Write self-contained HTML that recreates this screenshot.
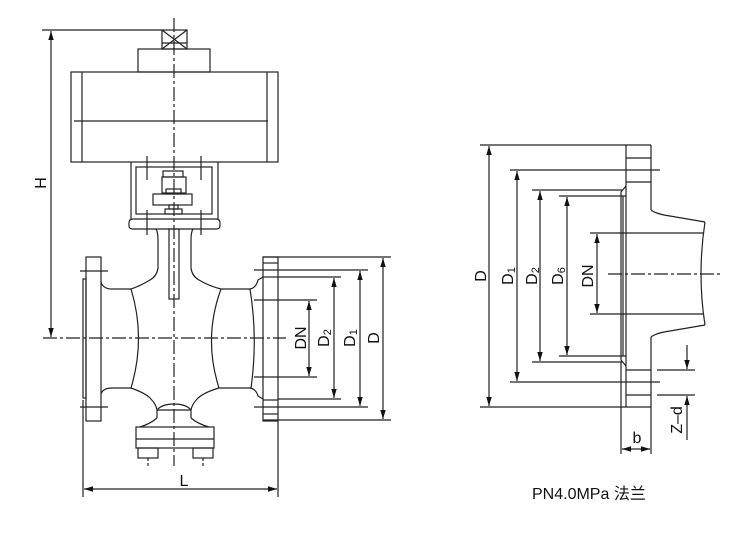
<!DOCTYPE html>
<html><head><meta charset="utf-8"><style>
html,body{margin:0;padding:0;background:#fff;}
svg{display:block;}
text{font-family:"Liberation Sans","Noto Sans CJK SC",sans-serif;fill:#111;}
</style></head><body>
<svg width="744" height="537" viewBox="0 0 744 537" xmlns="http://www.w3.org/2000/svg">
<defs>
<marker id="a" viewBox="0 0 10 10" refX="10" refY="5" markerWidth="9" markerHeight="9" orient="auto-start-reverse" markerUnits="userSpaceOnUse"><path d="M0,2 L10,5 L0,8 Z" fill="#111"/></marker>
</defs>
<g stroke="#222" stroke-width="1.2" fill="none">
<line x1="174" y1="18" x2="174" y2="466" stroke-dasharray="14,3,3,3"/>
<line x1="43" y1="338" x2="286" y2="338" stroke-dasharray="14,3,3,3"/>
<rect x="162" y="30" width="25" height="19"/>
<line x1="162" y1="30" x2="187" y2="49"/><line x1="187" y1="30" x2="162" y2="49"/>
<line x1="162" y1="43" x2="187" y2="43"/>
<rect x="138" y="49" width="72" height="23"/>
<rect x="71" y="72" width="207" height="90"/>
<line x1="82" y1="72" x2="82" y2="162"/><line x1="267" y1="72" x2="267" y2="162"/>
<line x1="74" y1="121" x2="268" y2="121"/>
<path d="M131,162 V219 M218,162 V219"/>
<rect x="136" y="167" width="76" height="47"/>
<path d="M133,219 H216 Q220,219 220,223 V226 Q220,229 216,229 H133 Q129,229 129,226 V223 Q129,219 133,219 Z"/>
<line x1="147" y1="156" x2="147" y2="180"/><line x1="201" y1="156" x2="201" y2="180"/>
<line x1="147" y1="210" x2="147" y2="235"/><line x1="201" y1="210" x2="201" y2="235"/>
<rect x="163" y="171" width="20" height="6"/>
<rect x="162" y="177" width="24" height="16"/>
<rect x="166" y="189" width="15" height="5"/>
<rect x="153" y="194" width="39" height="11"/>
<rect x="169" y="205" width="9" height="4"/>
<rect x="165" y="209" width="17" height="5"/>
<path d="M156,229 Q158,232 158,240 V268 Q157,276 150,280 Q140,286 131,289"/>
<path d="M193,229 Q191,232 191,240 V268 Q192,276 199,280 Q209,286 221,289"/>
<rect x="169" y="229" width="10" height="70"/>
<rect x="86" y="257" width="15" height="164"/>
<rect x="83" y="279" width="3" height="119"/>
<line x1="80" y1="271" x2="108" y2="271"/><line x1="80" y1="407" x2="108" y2="407"/>
<path d="M101,282 Q103,289 112,289 H131"/>
<path d="M101,394 Q103,388 112,388 H131"/>
<path d="M131,289 Q146,338 131,388"/>
<path d="M221,289 Q203,338 219,388"/>
<path d="M221,289 H250 Q258,338 251,388 H219"/>
<path d="M131,388 Q145,393 150,398 Q156,404 157,410 H191 Q192,404 198,398 Q205,392 219,388"/>
<path d="M157,410 Q162,404 174,404 Q186,404 191,410"/>
<path d="M157,410 V418 M191,410 V418"/>
<path d="M157,418 Q150,424 140,427 M191,418 Q198,424 209,427"/>
<rect x="136" y="427" width="78" height="21"/>
<line x1="136" y1="439" x2="214" y2="439"/>
<rect x="138" y="448" width="20" height="10"/><rect x="193" y="448" width="20" height="10"/>
<line x1="148" y1="458" x2="148" y2="466" stroke-dasharray="3,2"/>
<line x1="203" y1="458" x2="203" y2="466" stroke-dasharray="3,2"/>
<path d="M250,289 Q256,288 258,280 L263,277"/>
<path d="M250,388 Q256,389 258,396 L263,399"/>
<rect x="263" y="257" width="15" height="164"/>
<line x1="263" y1="263" x2="278" y2="263"/><line x1="263" y1="277" x2="278" y2="277"/>
<line x1="263" y1="400" x2="278" y2="400"/><line x1="263" y1="414" x2="278" y2="414"/>
<line x1="263" y1="257" x2="391" y2="257"/><line x1="263" y1="420" x2="391" y2="420"/>
<line x1="254" y1="270" x2="368" y2="270"/><line x1="254" y1="407" x2="368" y2="407"/>
<line x1="278" y1="277" x2="341" y2="277"/><line x1="278" y1="399" x2="341" y2="399"/>
<line x1="254" y1="300" x2="317" y2="300"/><line x1="254" y1="377" x2="317" y2="377"/>
<line x1="383" y1="258" x2="383" y2="419" marker-start="url(#a)" marker-end="url(#a)"/>
<line x1="360" y1="271" x2="360" y2="406" marker-start="url(#a)" marker-end="url(#a)"/>
<line x1="334" y1="278" x2="334" y2="398" marker-start="url(#a)" marker-end="url(#a)"/>
<line x1="309" y1="301" x2="309" y2="376" marker-start="url(#a)" marker-end="url(#a)"/>
<line x1="42" y1="30" x2="162" y2="30"/>
<line x1="51" y1="31" x2="51" y2="337" marker-start="url(#a)" marker-end="url(#a)"/>
<line x1="83" y1="400" x2="83" y2="497"/><line x1="278" y1="421" x2="278" y2="497"/>
<line x1="84" y1="489" x2="277" y2="489" marker-start="url(#a)" marker-end="url(#a)"/>

<line x1="608" y1="274" x2="722" y2="274" stroke-dasharray="14,3,3,3"/>
<path d="M626,145 V407 M651,145 V210 M651,337 V407"/>
<line x1="480" y1="145" x2="651" y2="145"/><line x1="480" y1="407" x2="651" y2="407"/>
<line x1="510" y1="170" x2="660" y2="170"/><line x1="510" y1="382" x2="660" y2="382"/>
<line x1="626" y1="158" x2="651" y2="158"/><line x1="626" y1="182" x2="651" y2="182"/>
<line x1="626" y1="370" x2="651" y2="370"/><line x1="626" y1="395" x2="651" y2="395"/>
<line x1="532" y1="190" x2="622" y2="190"/><line x1="532" y1="362" x2="622" y2="362"/>
<line x1="559" y1="196" x2="626" y2="196"/><line x1="559" y1="356" x2="626" y2="356"/>
<path d="M626,186 L621,192 V360 L626,366"/>
<line x1="623" y1="196" x2="623" y2="356"/>
<path d="M651,210 Q656,214 670,216 L705,222"/>
<path d="M651,337 Q656,333 670,331 L705,325"/>
<path d="M705,222 Q697,274 705,325"/>
<line x1="590" y1="233" x2="703" y2="233"/><line x1="590" y1="314" x2="703" y2="314"/>
<line x1="489" y1="146" x2="489" y2="406" marker-start="url(#a)" marker-end="url(#a)"/>
<line x1="517" y1="171" x2="517" y2="381" marker-start="url(#a)" marker-end="url(#a)"/>
<line x1="540" y1="191" x2="540" y2="361" marker-start="url(#a)" marker-end="url(#a)"/>
<line x1="567" y1="197" x2="567" y2="355" marker-start="url(#a)" marker-end="url(#a)"/>
<line x1="597" y1="234" x2="597" y2="313" marker-start="url(#a)" marker-end="url(#a)"/>
<line x1="657" y1="370" x2="695" y2="370"/><line x1="657" y1="395" x2="695" y2="395"/>
<line x1="687" y1="345" x2="687" y2="369" marker-end="url(#a)"/>
<line x1="687" y1="440" x2="687" y2="396" marker-end="url(#a)"/>
<line x1="621" y1="362" x2="621" y2="454"/><line x1="651" y1="407" x2="651" y2="454"/>
<line x1="622" y1="449" x2="650" y2="449" marker-start="url(#a)" marker-end="url(#a)"/>
</g>
<g font-size="16">
<text transform="translate(46,183) rotate(-90)" text-anchor="middle">H</text>
<text x="184" y="486" text-anchor="middle">L</text>
<text transform="translate(306,338) rotate(-90)" text-anchor="middle">DN</text>
<text transform="translate(329,338) rotate(-90)" text-anchor="middle">D<tspan font-size="11" dy="2">2</tspan></text>
<text transform="translate(355,338) rotate(-90)" text-anchor="middle">D<tspan font-size="11" dy="2">1</tspan></text>
<text transform="translate(379,338) rotate(-90)" text-anchor="middle">D</text>
<text transform="translate(486,276) rotate(-90)" text-anchor="middle">D</text>
<text transform="translate(513,276) rotate(-90)" text-anchor="middle">D<tspan font-size="11" dy="2">1</tspan></text>
<text transform="translate(537,276) rotate(-90)" text-anchor="middle">D<tspan font-size="11" dy="2">2</tspan></text>
<text transform="translate(563,276) rotate(-90)" text-anchor="middle">D<tspan font-size="11" dy="2">6</tspan></text>
<text transform="translate(593,276) rotate(-90)" text-anchor="middle">DN</text>
<text x="637" y="443" text-anchor="middle">b</text>
<text transform="translate(682,420) rotate(-90)" text-anchor="middle">Z–d</text>
<text x="532" y="499">PN4.0MPa 法兰</text>
</g>
</svg>
</body></html>
